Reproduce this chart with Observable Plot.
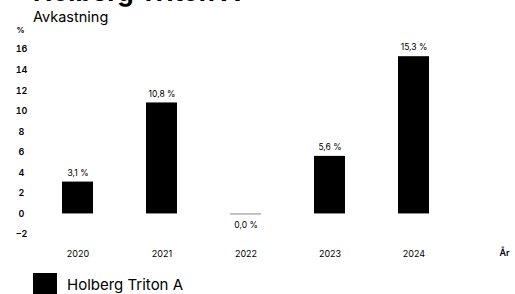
<!DOCTYPE html>
<html>
<head>
<meta charset="utf-8">
<script src="https://cdn.jsdelivr.net/npm/d3@7"></script>
<script src="https://cdn.jsdelivr.net/npm/@observablehq/plot@0.6"></script>
<style>
  body { margin: 0; background: #fff; font-family: Inter, "Noto Sans", sans-serif; color: #000; overflow: hidden; }
  #title { font-size: 26px; font-weight: 700; line-height: 26px; margin: -21px 0 0 33px; white-space: nowrap; }
  #subtitle { font-size: 14.5px; line-height: 18px; margin: 3px 0 0 33px; }
  #legend { display: flex; align-items: center; margin: 4px 0 0 33px; font-size: 15px; }
  #legend .sw { width: 24px; height: 22px; background: #000; margin-right: 10px; }
</style>
</head>
<body>
<div id="title">Holberg Triton A</div>
<div id="subtitle">Avkastning</div>
<div id="chart"></div>
<div id="legend"><div class="sw"></div><span>Holberg Triton A</span></div>
<script>
const years = ["2020", "2021", "2022", "2023", "2024"];
const returns = [3.1, 10.8, 0.0, 5.6, 15.3];
const yTicks = [-2, 0, 2, 4, 6, 8, 10, 12, 14, 16];
const seriesName = "Holberg Triton A";

const data = years.map((y, i) => ({ year: y, value: returns[i] }));
const fmt = v => v.toFixed(1).replace(".", ",") + " %";
const nonZero = data.filter(d => d.value !== 0);
const zero = data.filter(d => d.value === 0);

const chart = Plot.plot({
  width: 515,
  height: 243,
  marginTop: 23,
  marginLeft: 30,
  marginRight: 53,
  marginBottom: 35,
  style: { fontFamily: "Inter, 'Noto Sans', sans-serif", fontSize: "9px", background: "transparent" },
  x: { domain: years, paddingInner: 0.63, paddingOuter: 0.37, label: null },
  y: { domain: [-2, 16], label: null },
  marks: [
    Plot.axisY({ ticks: yTicks, tickSize: 0, tickPadding: 9, textAnchor: "middle", fontWeight: 600, fontSize: 9 }),
    Plot.axisX({ tickSize: 0, tickPadding: 16, fontSize: 9 }),
    Plot.barY(nonZero, { x: "year", y: "value", fill: "#000" }),
    Plot.tickY(zero, { x: "year", y: "value", stroke: "#999", strokeWidth: 1.2 }),
    Plot.text(nonZero, { x: "year", y: "value", text: d => fmt(d.value), dy: -9, fontSize: 8.5 }),
    Plot.text(zero, { x: "year", y: "value", text: d => fmt(d.value), dy: 11, fontSize: 8.5 }),
    Plot.text(["%"], { frameAnchor: "top-left", dx: -14, dy: -22, fontSize: 8, fontWeight: 700 }),
    Plot.text(["År"], { frameAnchor: "bottom-right", dx: 47, dy: 21, fontSize: 9, fontWeight: 600 })
  ]
});
document.getElementById("chart").appendChild(chart);
</script>
</body>
</html>
